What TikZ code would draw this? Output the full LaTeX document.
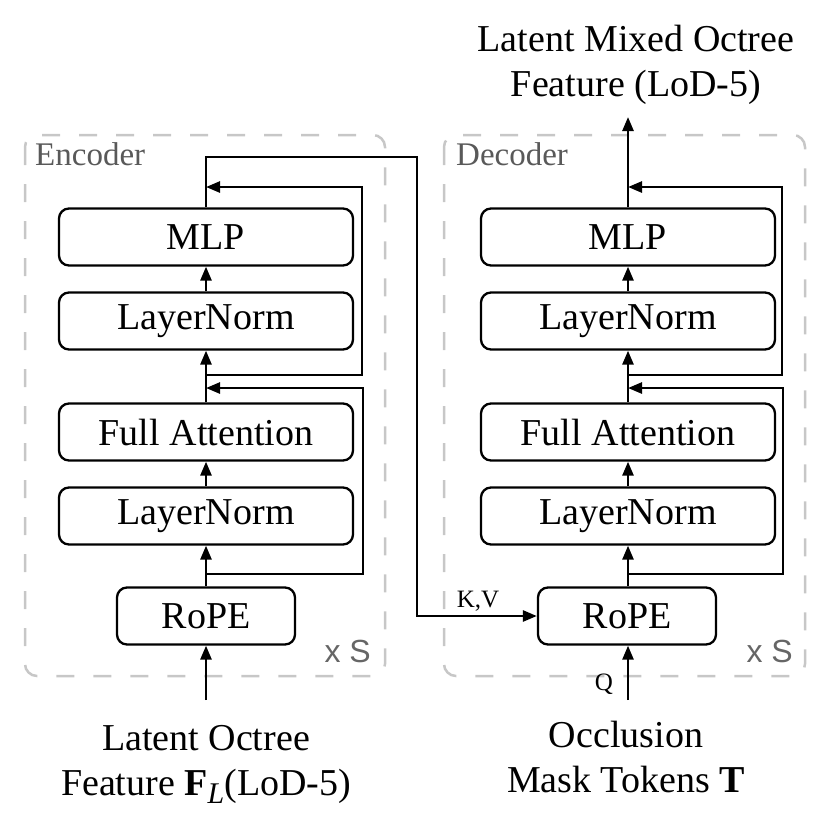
\documentclass[tikz,border=0pt]{standalone}
\usepackage{fontspec}
\setmainfont{Liberation Serif}
\newfontfamily\sansfnt{Liberation Sans}
\usetikzlibrary{arrows.meta}
\begin{document}
\begin{tikzpicture}[x=1pt,y=-1pt,
  blk/.style={draw, line width=2.3pt, rounded corners=10pt, minimum width=294pt, minimum height=57pt, inner sep=0pt, font=\fontsize{38}{45}\selectfont},
  ropeblk/.style={blk, minimum width=178pt},
  grp/.style={draw=black!22, line width=2.5pt, rounded corners=12pt, dash pattern=on 18pt off 19pt},
  arr/.style={line width=2.6pt, -{Triangle[length=14pt,width=11pt]}},
  ln/.style={line width=2.6pt},
  grplbl/.style={anchor=base west, inner sep=0pt, text=black!65, font=\fontsize{33}{36}\selectfont},
  rep/.style={anchor=base east, inner sep=0pt, text=black!60, font=\sansfnt\fontsize{32}{36}\selectfont},
  io/.style={anchor=north, inner sep=0pt, align=center, font=\fontsize{38}{45}\selectfont},
  small/.style={anchor=base, inner sep=0pt, font=\fontsize{25}{28}\selectfont}
]
\useasboundingbox (0,0) rectangle (830,833);

% groups
\draw[grp] (25,135) rectangle (385,676);
\draw[grp] (444,135) rectangle (805,676);
\node[grplbl] (enclbl) at (35,165) {Encoder};
\node[grplbl] (declbl) at (456,165) {Decoder};
\node[rep] (encrep) at (371,662) {x S};
\node[rep] (decrep) at (793,662) {x S};

% encoder
\node[blk] (emlp) at (206,237) {MLP};
\node[blk] (eln1) at (206,321) {LayerNorm};
\node[blk] (eatt) at (206,432) {Full Attention};
\node[blk] (eln2) at (206,516) {LayerNorm};
\node[ropeblk] (erope) at (206,616) {RoPE};

% decoder
\node[blk] (dmlp) at (628,237) {MLP};
\node[blk] (dln1) at (628,321) {LayerNorm};
\node[blk] (datt) at (628,432) {Full Attention};
\node[blk] (dln2) at (628,516) {LayerNorm};
\node[ropeblk] (drope) at (627,616) {RoPE};

% main flow
\draw[arr] (erope) -- (eln2);
\draw[arr] (eln2) -- (eatt);
\draw[arr] (eatt) -- (eln1);
\draw[arr] (eln1) -- (emlp);
\draw[arr] (drope.north -| dln2.south) -- (dln2);
\draw[arr] (dln2) -- (datt);
\draw[arr] (datt) -- (dln1);
\draw[arr] (dln1) -- (dmlp);

% residuals encoder
\coordinate (er1s) at (206,574);
\coordinate (er1e) at (206,388);
\coordinate (er2s) at (206,375);
\coordinate (er2e) at (206,187);
\draw[arr] (er1s) -- ++(157,0) |- (er1e);
\draw[arr] (er2s) -- ++(156,0) |- (er2e);

% residuals decoder
\coordinate (dr1s) at (628,574);
\coordinate (dr1e) at (628,388);
\coordinate (dr2s) at (628,375);
\coordinate (dr2e) at (628,187);
\draw[arr] (dr1s) -- ++(155,0) |- (dr1e);
\draw[arr] (dr2s) -- ++(154,0) |- (dr2e);

% encoder to decoder
\coordinate (kv) at (417,157);
\draw[arr] (emlp.north) |- (kv) |- (drope.west);
\node[small] (kvlbl) at (478,607) {K,V};

% output
\coordinate (out) at (628,117);
\draw[arr] (dmlp.north) -- (out);
\node[io] (outtxt) at (636,25) {Latent Mixed Octree\\Feature (LoD-5)};

% inputs
\coordinate (ein) at (206,700);
\coordinate (din) at (628,700);
\draw[arr] (ein) -- (erope.south);
\draw[arr] (din) -- (din |- drope.south);
\node[small] (qlbl) at (604,690) {Q};
\node[io] (intxt) at (206,725) {Latent Octree\\Feature \textbf{F}\raisebox{-0.22em}{\fontsize{30}{30}\selectfont\itshape L}(LoD-5)};
\node[io] (mtxt) at (626,721) {Occlusion\\Mask Tokens \textbf{T}};
\end{tikzpicture}
\end{document}
